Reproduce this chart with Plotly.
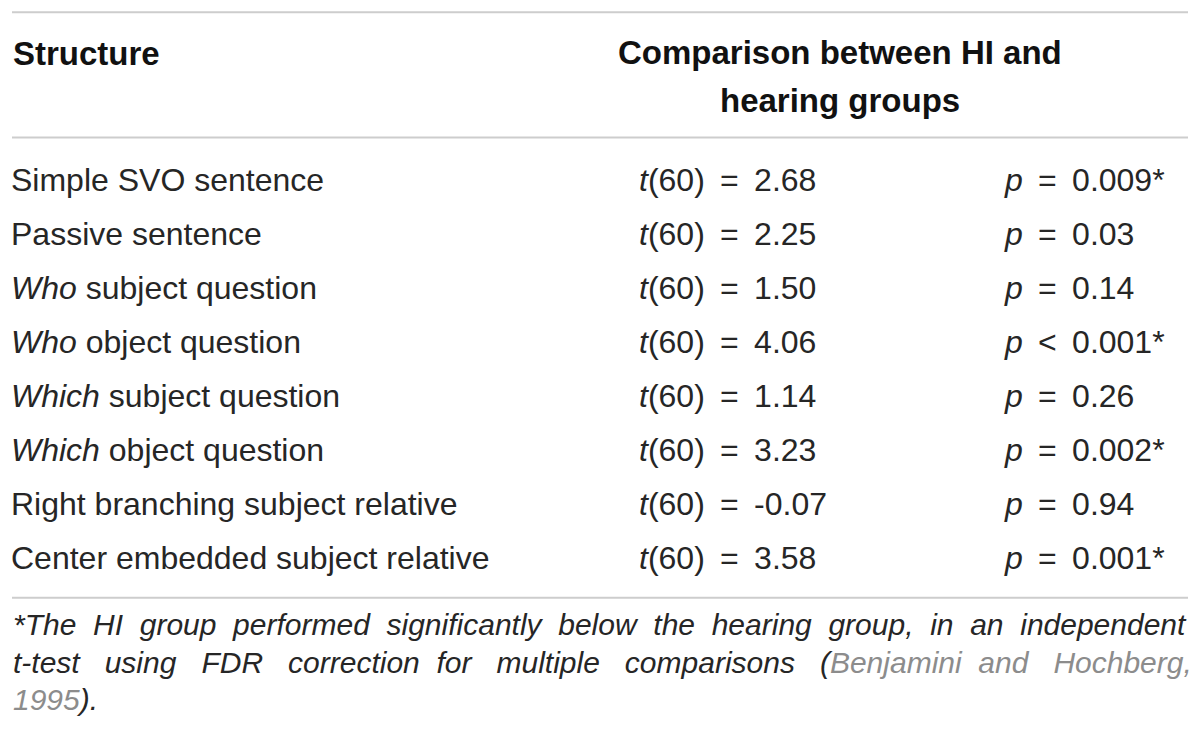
import plotly.graph_objects as go

# ── Table content ──
structures = [
    "Simple SVO sentence",
    "Passive sentence",
    "<i>Who</i> subject question",
    "<i>Who</i> object question",
    "<i>Which</i> subject question",
    "<i>Which</i> object question",
    "Right branching subject relative",
    "Center embedded subject relative",
]
df_t = [60, 60, 60, 60, 60, 60, 60, 60]
t_values = ["2.68", "2.25", "1.50", "4.06", "1.14", "3.23", "-0.07", "3.58"]
p_ops = ["=", "=", "=", "<", "=", "=", "=", "="]
p_values = ["0.009", "0.03", "0.14", "0.001", "0.26", "0.002", "0.94", "0.001"]
significant = [True, False, False, True, False, True, False, True]

header_left = "Structure"
header_right = ["Comparison between HI and", "hearing groups"]
footnote_words = [
    ["*The", "HI", "group", "performed", "significantly", "below", "the", "hearing",
     "group,", "in", "an", "independent"],
    ["t-test", "using", "FDR", "correction", "for", "multiple", "comparisons",
     "(<span style='color:#8c8c8c'>Benjamini", "and", "Hochberg,</span>"],
    ["<span style='color:#8c8c8c'>1995</span>)."],
]
# extra (non-breaking) spaces per gap, to fake the justified lines
footnote_extra = [
    [1] * 11,
    [2, 2, 2, 1, 2, 2, 2, 1, 2],
    [],
]

FONT = "Liberation Sans, Arial, sans-serif"
TXT = "#262626"
RULE = "#cdcdcd"
SP = "\u2009"  # thin space, the "=" in the source is set wide


def justify(words, extra):
    out = words[0]
    for w, n in zip(words[1:], extra):
        out += " " + "\u00a0" * n + w
    return out


rows = list(range(len(structures)))
t_text = [f"<i>t</i>({d}) {SP}={SP} {v}" for d, v in zip(df_t, t_values)]
p_text = [f"<i>p</i> {SP}{op}{SP} {v}{'*' if s else ''}"
          for op, v, s in zip(p_ops, p_values, significant)]

fig = go.Figure()
for xpos, texts in [(11, structures), (639, t_text), (1005, p_text)]:
    fig.add_trace(go.Scatter(
        x=[xpos] * len(rows), y=rows, mode="text", text=texts,
        textposition="middle right",
        textfont=dict(family=FONT, size=32, color=TXT),
        hoverinfo="skip", showlegend=False,
    ))

# header
hfont = dict(family=FONT, size=33, color="#111")
fig.add_annotation(x=11, y=-2.40, text=f"<b>{header_left}</b>", xanchor="left",
                   yanchor="middle", showarrow=False, font=hfont)
for k, line in enumerate(header_right):
    fig.add_annotation(x=840, y=-2.42 + 0.89 * k, text=f"<b>{line}</b>",
                       xanchor="center", yanchor="middle", showarrow=False, font=hfont)

# footnote
for k, (words, extra) in enumerate(zip(footnote_words, footnote_extra)):
    fig.add_annotation(x=11, y=8.18 + 0.695 * k, text=f"<i>{justify(words, extra)}</i>",
                       xanchor="left", yanchor="middle", showarrow=False,
                       font=dict(family=FONT, size=30, color=TXT))

# horizontal rules
for yy in [-3.155, -0.835, 7.685]:
    fig.add_shape(type="line", x0=12, x1=1188, y0=yy, y1=yy,
                  line=dict(color=RULE, width=2))

# page body has an 8px margin, so the plot starts at (8, 8)
fig.update_layout(
    width=1192, height=738,
    margin=dict(l=0, r=0, t=0, b=0),
    paper_bgcolor="white", plot_bgcolor="white",
    xaxis=dict(range=[8, 1200], visible=False, fixedrange=True),
    yaxis=dict(range=[10.43, -3.235], visible=False, fixedrange=True),
)

fig.write_html("out.html")
